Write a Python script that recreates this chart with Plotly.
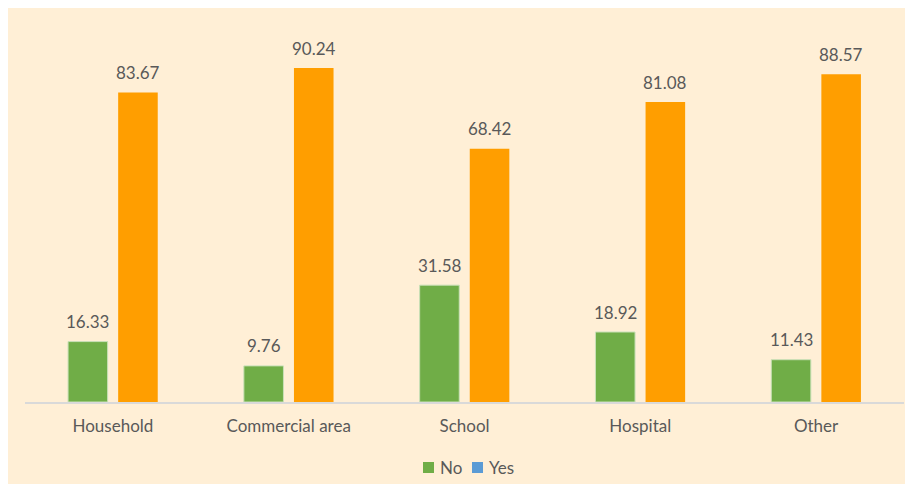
import plotly.graph_objects as go

categories = ["Household", "Commercial area", "School", "Hospital", "Other"]
no_values = [16.33, 9.76, 31.58, 18.92, 11.43]
yes_values = [83.67, 90.24, 68.42, 81.08, 88.57]
series_names = ["No", "Yes"]

green = "#70AD47"
orange = "#FF9E00"
legend_blue = "#5B9BD5"
text_color = "#595959"
cream = "#FFEFD6"
font_family = "Lato, 'Open Sans', sans-serif"
FS = 17

W, H = 922, 494
ml, mr, mt, mb = 17, 26, 24, 100
pw = W - ml - mr
ph = H - mt - mb


def px_x(x):
    return (x - ml) / pw


def px_y(y):
    return (H - mb - y) / ph


fig = go.Figure()
fig.add_trace(go.Bar(
    x=categories, y=no_values, name=series_names[0],
    marker=dict(color=green, line=dict(color="#C9E0B8", width=1)),
    showlegend=False,
))
fig.add_trace(go.Bar(
    x=categories, y=yes_values, name=series_names[1],
    marker=dict(color=orange, line=dict(width=0)),
    showlegend=False,
))

annotations = []
for cat, v in zip(categories, no_values):
    annotations.append(dict(x=cat, y=v, xref="x", yref="y", text=f"{v:.2f}",
                            showarrow=False, xshift=-25, yshift=20, yanchor="middle",
                            font=dict(size=FS, color=text_color, family=font_family)))
for cat, v in zip(categories, yes_values):
    annotations.append(dict(x=cat, y=v, xref="x", yref="y", text=f"{v:.2f}",
                            showarrow=False, xshift=25, yshift=20, yanchor="middle",
                            font=dict(size=FS, color=text_color, family=font_family)))

# custom legend (entry squares + real text)
legend_items = [(series_names[0], green, 415), (series_names[1], legend_blue, 464)]
shapes = []
for name, col, x0 in legend_items:
    shapes.append(dict(type="rect", xref="paper", yref="paper",
                       x0=px_x(x0), x1=px_x(x0 + 11), y0=px_y(465), y1=px_y(454),
                       fillcolor=col, line=dict(width=0)))
    annotations.append(dict(x=px_x(x0 + 15), y=px_y(459), xref="paper", yref="paper",
                            text=name, showarrow=False, xanchor="left", yanchor="middle",
                            font=dict(size=FS, color=text_color, family=font_family)))

fig.update_layout(
    width=W, height=H,
    margin=dict(l=ml, r=mr, t=mt, b=mb),
    paper_bgcolor=cream,
    plot_bgcolor=cream,
    barmode="group",
    bargap=0.43,
    bargroupgap=0.21,
    font=dict(family=font_family, size=FS, color=text_color),
    showlegend=False,
    xaxis=dict(showgrid=False, showline=True, linecolor="#D9D9D9", linewidth=2,
               ticks="", tickfont=dict(size=FS, color=text_color, family=font_family),
               ticklabelstandoff=8),
    yaxis=dict(range=[0, 100], visible=False, showgrid=False, zeroline=False),
    shapes=shapes,
    annotations=annotations,
)

fig.write_html("out.html")
